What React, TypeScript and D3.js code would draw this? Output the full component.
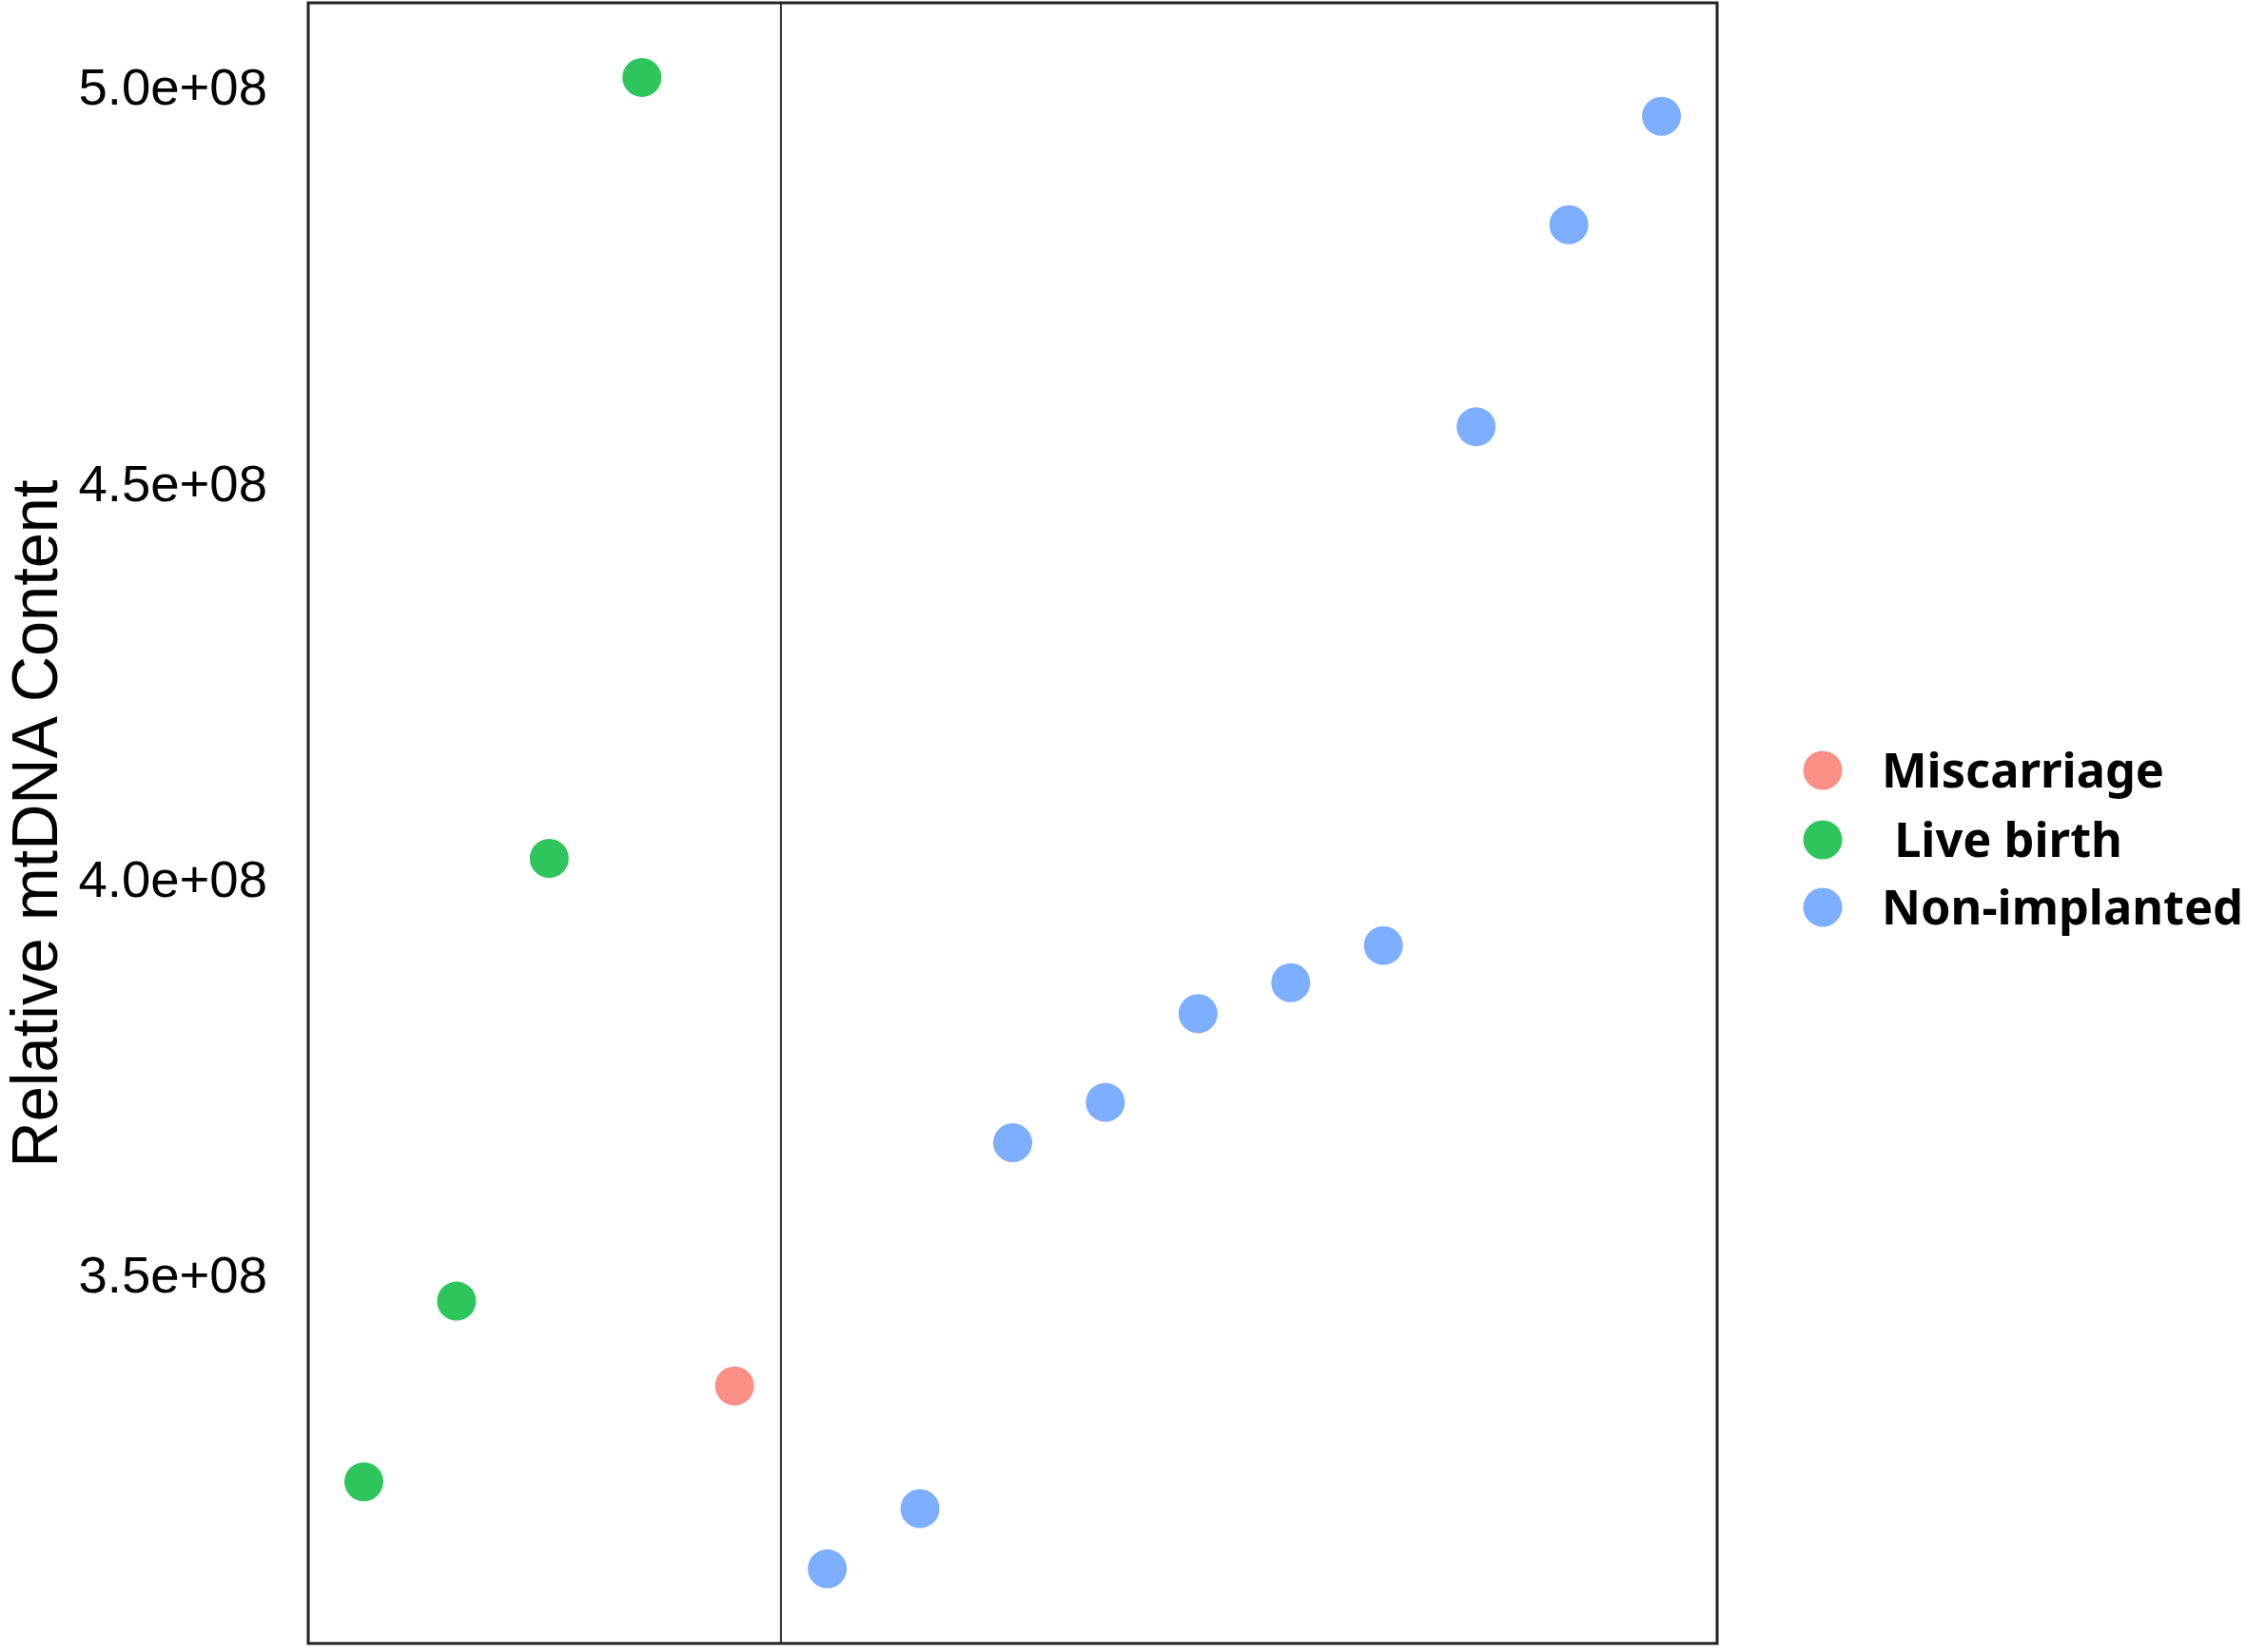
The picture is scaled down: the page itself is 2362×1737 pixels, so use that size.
import React, { useEffect } from 'react';
import { scaleLinear, scaleOrdinal, extent } from 'd3';

// samples in plotting order
const sampleGroups = [
  'Live birth',
  'Live birth',
  'Live birth',
  'Live birth',
  'Miscarriage',
  'Non-implanted',
  'Non-implanted',
  'Non-implanted',
  'Non-implanted',
  'Non-implanted',
  'Non-implanted',
  'Non-implanted',
  'Non-implanted',
  'Non-implanted',
  'Non-implanted',
];
const mtDNAValues = [
  3.238e8, 3.466e8, 4.025e8, 5.011e8, 3.359e8, 3.128e8, 3.204e8, 3.666e8,
  3.717e8, 3.829e8, 3.868e8, 3.915e8, 4.57e8, 4.825e8, 4.962e8,
];
const legendGroups = ['Miscarriage', 'Live birth', 'Non-implanted'];
const legendLabels = ['Miscarriage', ' Live birth', 'Non-implanted'];
const groupColors = ['#F8766D', '#00BA38', '#619CFF'];
const yTicks = [3.5e8, 4.0e8, 4.5e8, 5.0e8];
const yTickLabels = ['3.5e+08', '4.0e+08', '4.5e+08', '5.0e+08'];

const W = 2362;
const H = 1737;
const panel = { left: 324, top: 3, right: 1805, bottom: 1728 };

const App: React.FC = () => {
  useEffect(() => {
    document.body.style.margin = '0';
  }, []);

  const n = mtDNAValues.length;
  const x = scaleLinear()
    .domain([1 - 0.6, n + 0.6])
    .range([panel.left, panel.right]);

  const [lo, hi] = extent(mtDNAValues) as [number, number];
  const pad = (hi - lo) * 0.05;
  const y = scaleLinear()
    .domain([lo - pad, hi + pad])
    .range([panel.bottom, panel.top]);

  const color = scaleOrdinal<string, string>()
    .domain(legendGroups)
    .range(groupColors);

  const firstNonImpl = sampleGroups.indexOf('Non-implanted') + 1;
  const dividerX = x(firstNonImpl - 0.5);

  const legendX = 1916;
  const legendY = [810, 883, 954];

  return (
    <svg width={W} height={H} style={{ display: 'block', background: '#fff' }}>
      {/* tick labels */}
      <g fontFamily="'Liberation Sans', Arial, sans-serif" fontSize={54.5} fill="#000">
        {yTicks.map((t, i) => (
          <text key={t} x={281} y={y(t)} dy="0.36em" textAnchor="end">
            {yTickLabels[i]}
          </text>
        ))}
      </g>

      {/* y axis title */}
      <text
        transform={`translate(60, 866) rotate(-90)`}
        textAnchor="middle"
        fontFamily="'Liberation Sans', Arial, sans-serif"
        fontSize={69}
        textLength={723}
        lengthAdjust="spacingAndGlyphs"
      >
        Relative mtDNA Content
      </text>

      {/* points */}
      <g>
        {mtDNAValues.map((v, i) => (
          <circle
            key={i}
            cx={x(i + 1)}
            cy={y(v)}
            r={20.5}
            fill={color(sampleGroups[i])}
            fillOpacity={0.82}
          />
        ))}
      </g>

      {/* divider */}
      <line
        x1={dividerX}
        x2={dividerX}
        y1={panel.top}
        y2={panel.bottom}
        stroke="#333"
        strokeWidth={2}
      />

      {/* panel border */}
      <rect
        x={panel.left}
        y={panel.top}
        width={panel.right - panel.left}
        height={panel.bottom - panel.top}
        fill="none"
        stroke="#222"
        strokeWidth={3}
      />

      {/* legend */}
      <g>
        {legendGroups.map((g, i) => (
          <g key={g}>
            <circle
              cx={legendX}
              cy={legendY[i]}
              r={20.5}
              fill={color(g)}
              fillOpacity={0.82}
            />
            <text
              x={1978}
              y={legendY[i]}
              dy="0.36em"
              fontFamily="'Noto Sans', 'Open Sans', sans-serif"
              fontWeight="bold"
              fontSize={50.5}
              style={{ whiteSpace: 'pre' }}
            >
              {legendLabels[i]}
            </text>
          </g>
        ))}
      </g>
    </svg>
  );
};

export default App;
